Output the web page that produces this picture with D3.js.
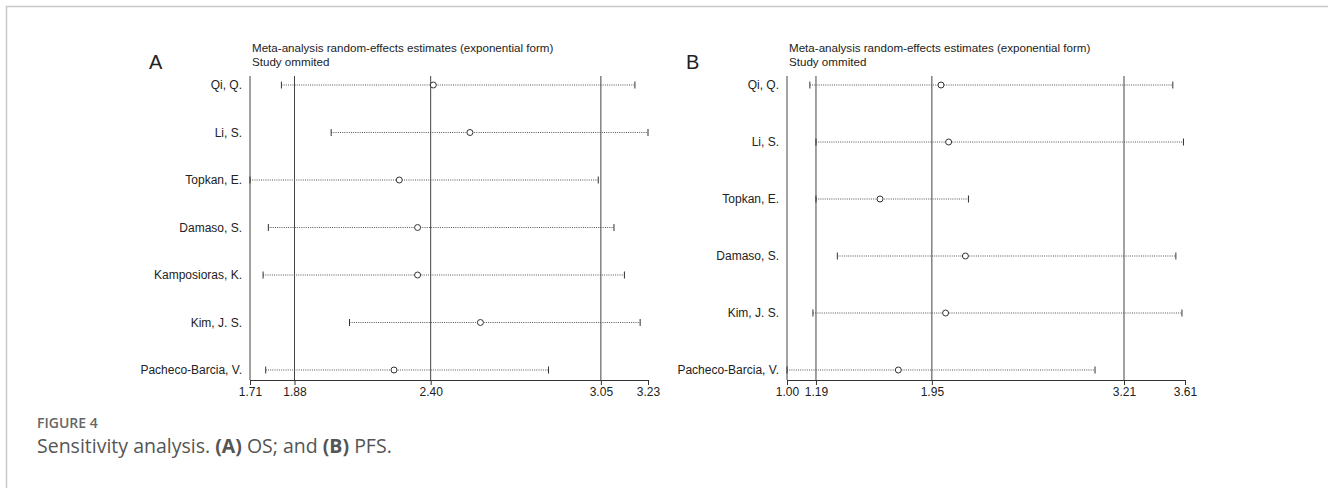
<!DOCTYPE html>
<html>
<head>
<meta charset="utf-8">
<script src="https://cdn.jsdelivr.net/npm/d3@7"></script>
<style>
  body { margin: 0; background: #fff; }
  svg text { font-family: "Liberation Sans", Arial, sans-serif; }
</style>
</head>
<body>
<div id="chart-area"></div>
<script>
// Panel A (OS)
var studiesA = ['Qi, Q.', 'Li, S.', 'Topkan, E.', 'Damaso, S.', 'Kamposioras, K.', 'Kim, J. S.', 'Pacheco-Barcia, V.'];
var estA   = [2.41, 2.55, 2.28, 2.35, 2.35, 2.59, 2.26];
var lowerA = [1.83, 2.02, 1.71, 1.78, 1.76, 2.09, 1.77];
var upperA = [3.18, 3.23, 3.04, 3.10, 3.14, 3.20, 2.85];
var ticksA = [1.71, 1.88, 2.40, 3.05, 3.23];
var refA   = [1.88, 2.40, 3.05];

// Panel B (PFS)
var studiesB = ['Qi, Q.', 'Li, S.', 'Topkan, E.', 'Damaso, S.', 'Kim, J. S.', 'Pacheco-Barcia, V.'];
var estB   = [2.01, 2.06, 1.61, 2.17, 2.04, 1.73];
var lowerB = [1.15, 1.19, 1.19, 1.33, 1.17, 1.00];
var upperB = [3.53, 3.60, 2.19, 3.55, 3.59, 3.02];
var ticksB = [1.00, 1.19, 1.95, 3.21, 3.61];
var refB   = [1.19, 1.95, 3.21];

var svg = d3.select('#chart-area').append('svg')
  .attr('width', 1328)
  .attr('height', 488);

// frame
svg.append('path')
  .attr('d', 'M6.5,488 V6.5 H1328')
  .attr('fill', 'none')
  .attr('stroke', '#c8c8c8')
  .attr('stroke-width', 1.5);

function drawPanel(opts) {
  var top = 76, bottom = 380;
  var x = d3.scaleLinear().domain(d3.extent(opts.ticks)).range([opts.x0, opts.x0 + 398]);
  var y = d3.scalePoint().domain(opts.studies).range([85, 370]);
  var g = svg.append('g');

  g.append('text').attr('x', opts.x0 - 101).attr('y', 69)
    .text(opts.letter)
    .style('font-size', '20px').style('fill', '#222');
  g.append('text').attr('x', opts.x0 + 2).attr('y', 52)
    .text('Meta-analysis random-effects estimates (exponential form)')
    .style('font-size', '11.6px').style('fill', '#222');
  g.append('text').attr('x', opts.x0 + 2).attr('y', 66)
    .text('Study ommited')
    .style('font-size', '11.6px').style('fill', '#222');

  // left axis line and reference lines
  g.append('line').attr('x1', x.range()[0]).attr('x2', x.range()[0])
    .attr('y1', top).attr('y2', bottom).attr('stroke', '#444');
  g.selectAll('.ref').data(opts.refs).enter().append('line')
    .attr('x1', d => x(d)).attr('x2', d => x(d))
    .attr('y1', top).attr('y2', bottom)
    .attr('stroke', '#444');

  // bottom axis
  var axis = d3.axisBottom(x).tickValues(opts.ticks).tickFormat(d3.format('.2f'))
    .tickSize(5).tickSizeOuter(0);
  var ax = g.append('g').attr('transform', `translate(0, ${bottom})`).call(axis);
  ax.select('.domain').attr('stroke', '#333');
  ax.selectAll('.tick line').attr('stroke', '#333');
  ax.selectAll('.tick text').attr('y', 7).style('font-size', '12px').style('fill', '#222')
    .style('font-family', '"Liberation Sans", Arial, sans-serif');

  var rows = g.selectAll('.row').data(opts.studies).enter().append('g')
    .attr('transform', d => `translate(0, ${y(d)})`);

  rows.append('text')
    .attr('x', opts.x0 - 8).attr('dy', '0.35em')
    .style('text-anchor', 'end').style('font-size', '12px').style('fill', '#222')
    .text(d => d);

  rows.append('line')
    .attr('x1', (d, i) => x(opts.lower[i])).attr('x2', (d, i) => x(opts.upper[i]))
    .attr('stroke', '#555').attr('stroke-dasharray', '1,1.2');
  rows.append('line')
    .attr('x1', (d, i) => x(opts.lower[i])).attr('x2', (d, i) => x(opts.lower[i]))
    .attr('y1', -3.5).attr('y2', 3.5).attr('stroke', '#333');
  rows.append('line')
    .attr('x1', (d, i) => x(opts.upper[i])).attr('x2', (d, i) => x(opts.upper[i]))
    .attr('y1', -3.5).attr('y2', 3.5).attr('stroke', '#333');
  rows.append('circle')
    .attr('cx', (d, i) => x(opts.est[i]))
    .attr('r', 3)
    .attr('fill', '#fff').attr('stroke', '#333');
}

drawPanel({ letter: 'A', x0: 250, studies: studiesA, est: estA, lower: lowerA, upper: upperA, ticks: ticksA, refs: refA });
drawPanel({ letter: 'B', x0: 787, studies: studiesB, est: estB, lower: lowerB, upper: upperB, ticks: ticksB, refs: refB });

// caption
svg.append('text').attr('x', 37).attr('y', 428)
  .text('FIGURE 4')
  .style('font-family', '"Open Sans", sans-serif').style('font-weight', 600)
  .style('font-size', '14px').style('fill', '#666');
var cap = svg.append('text').attr('x', 37).attr('y', 453)
  .style('font-family', '"Open Sans", sans-serif').style('font-size', '19.5px').style('fill', '#555');
cap.append('tspan').text('Sensitivity analysis. ');
cap.append('tspan').style('font-weight', 700).text('(A)');
cap.append('tspan').text(' OS; and ');
cap.append('tspan').style('font-weight', 700).text('(B)');
cap.append('tspan').text(' PFS.');
</script>
</body>
</html>
